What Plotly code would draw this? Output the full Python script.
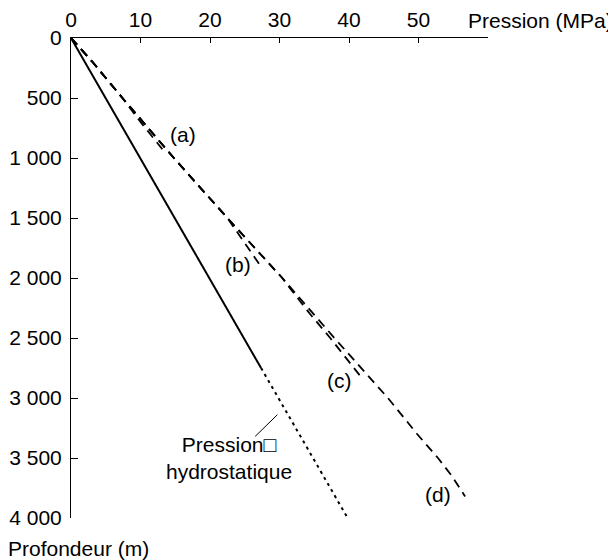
import plotly.graph_objects as go

# ---- data ----
depth_d = [0, 200, 500, 1000, 1500, 2000, 2500, 3000, 3300, 3500, 3650, 3820]
press_d = [0, 3.1, 7.4, 14.8, 22.5, 30.4, 37.9, 45.6, 49.8, 52.8, 54.8, 56.7]

depth_a = [0, 200, 500, 700, 960]
press_a = [0, 3.1, 7.4, 10.0, 13.6]

depth_b = [0, 200, 500, 1000, 1500, 1550, 1700, 1800, 1910]
press_b = [0, 3.1, 7.4, 14.8, 22.5, 23.1, 25.0, 26.2, 27.4]

depth_c = [0, 200, 500, 1000, 1500, 2000, 2100, 2300, 2500, 2700, 2830]
press_c = [0, 3.1, 7.4, 14.8, 22.5, 30.4, 31.7, 34.4, 37.3, 40.1, 41.8]

depth_hydro_solid = [0, 2750]
press_hydro_solid = [0, 27.35]
depth_hydro_dot = [2750, 4000]
press_hydro_dot = [27.35, 39.8]

x_ticks = [0, 10, 20, 30, 40, 50, 60]
x_ticktext = ["0", "10", "20", "30", "40", "50", ""]
y_ticks = [0, 500, 1000, 1500, 2000, 2500, 3000, 3500, 4000]
y_ticktext = ["0", "500", "1 000", "1 500", "2 000", "2 500", "3 000", "3 500", "4 000"]

curve_labels = ["(a)", "(b)", "(c)", "(d)"]
label_press = [16.1, 24.0, 38.7, 52.8]
label_depth = [806, 1889, 2856, 3806]

FONT = "Liberation Sans, Arial, Helvetica, sans-serif"
FS = 21

fig = go.Figure()
dash_style = dict(color="black", width=1.8, dash="9px,6px")
for p, d in [(press_d, depth_d), (press_c, depth_c), (press_b, depth_b), (press_a, depth_a)]:
    fig.add_trace(go.Scatter(x=p, y=d, mode="lines", line=dash_style, hoverinfo="skip"))

fig.add_trace(go.Scatter(x=press_hydro_solid, y=depth_hydro_solid, mode="lines",
                         line=dict(color="black", width=2), hoverinfo="skip"))
fig.add_trace(go.Scatter(x=press_hydro_dot, y=depth_hydro_dot, mode="lines",
                         line=dict(color="black", width=2, dash="3px,4px"), hoverinfo="skip"))

for t, px, dy in zip(curve_labels, label_press, label_depth):
    fig.add_annotation(x=px, y=dy, text=t, showarrow=False,
                       font=dict(family=FONT, size=FS, color="black"))

fig.add_annotation(x=22.7, y=3503, text="Pression□<br>hydrostatique", showarrow=False,
                   align="center", font=dict(family=FONT, size=FS, color="black"))
fig.add_shape(type="line", x0=26.5, y0=3320, x1=29.7, y1=3139,
              line=dict(color="black", width=1))

fig.add_annotation(xref="paper", yref="paper", x=1, y=1, xanchor="right", yanchor="middle",
                   xshift=127, yshift=18,
                   text="Pression (MPa)", showarrow=False,
                   font=dict(family=FONT, size=FS, color="black"))
fig.add_annotation(xref="paper", yref="paper", x=-0.156, y=-0.0625,
                   xanchor="left", yanchor="middle",
                   text="Profondeur (m)", showarrow=False,
                   font=dict(family=FONT, size=FS, color="black"))

fig.update_layout(
    width=608, height=552,
    margin=dict(l=63, r=128, t=30, b=42),
    paper_bgcolor="white", plot_bgcolor="white",
    showlegend=False,
    font=dict(family=FONT, size=FS, color="black"),
    xaxis=dict(range=[0, 60], side="top", tickvals=x_ticks, ticktext=x_ticktext,
               ticks="inside", ticklen=5, tickcolor="black", showline=True,
               linecolor="black", linewidth=1, showgrid=False, zeroline=False,
               automargin=False, ticklabelstandoff=2,
               tickfont=dict(family=FONT, size=FS, color="black")),
    yaxis=dict(range=[4000, 0], tickvals=y_ticks, ticktext=y_ticktext,
               ticks="inside", ticklen=7, tickcolor="black", showline=True,
               linecolor="black", linewidth=1, showgrid=False, zeroline=False,
               automargin=False, ticklabelstandoff=4,
               tickfont=dict(family=FONT, size=FS, color="black")),
)

fig.write_html("out.html")
